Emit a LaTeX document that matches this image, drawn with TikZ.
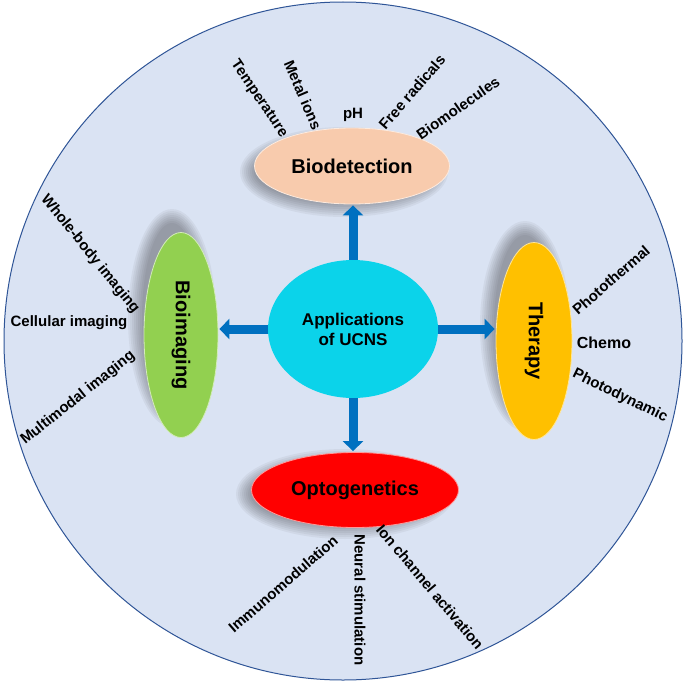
\documentclass[tikz,border=0pt]{standalone}
\usepackage{fontspec}
\setmainfont{Liberation Sans}
\usetikzlibrary{shapes.geometric,arrows.meta}
\definecolor{bgc}{HTML}{DAE3F3}
\definecolor{rim}{HTML}{2F5597}
\definecolor{cyanc}{HTML}{0BD3EA}
\definecolor{peach}{HTML}{F8CBAD}
\definecolor{leaf}{HTML}{92D050}
\definecolor{gold}{HTML}{FFC000}
\definecolor{redc}{HTML}{FF0000}
\definecolor{arr}{HTML}{0070C0}
\tikzset{
  oval/.style={ellipse, inner sep=0pt, font=\bfseries\fontsize{20}{24}\selectfont},
  sub/.style={inner sep=0pt, font=\bfseries\fontsize{15}{18}\selectfont},
  link/.style={arr, line width=9pt, -{Triangle[length=10pt,width=20pt]}, shorten >=1pt},
  shade layer/.style={fill=black!85, opacity=0.055},
}
\newcommand\mysoftshadow[4]{% center x, center y, rx, ry
  \foreach \k in {0,...,7}{
    \fill[shade layer] (#1,#2) ellipse [x radius={#3+9-2*\k}, y radius={#4+9-2*\k}];
  }}
\begin{document}
\begin{tikzpicture}[x=1pt,y=-1pt]
\useasboundingbox (0,0) rectangle (685,685);
\fill[white] (0,0) rectangle (685,685);
\filldraw[fill=bgc, draw=rim, line width=1pt] (343,341) circle[radius=339];

% soft shadows
\mysoftshadow{344}{172}{95}{36}
\mysoftshadow{172}{318}{35}{100}
\mysoftshadow{525}{326}{36}{96}
\mysoftshadow{345}{494}{100}{36}

% central and satellite ovals
\node[oval, fill=cyanc, minimum width=170pt, minimum height=138pt, align=center,
      font=\bfseries\fontsize{17}{20}\selectfont] (c) at (353,329) {Applications\\of UCNS};
\node[oval, fill=peach, draw=peach!40!white, line width=0.8pt, minimum width=195pt, minimum height=76pt] (bd) at (352,166) {Biodetection};
\node[oval, fill=leaf, draw=leaf!40!white, line width=0.8pt, minimum width=74pt, minimum height=205pt] (bi) at (181,335) {\rotatebox{-90}{Bioimaging}};
\node[oval, fill=gold, draw=gold!40!white, line width=0.8pt, minimum width=76pt, minimum height=197pt] (th) at (534,341) {\rotatebox{-90}{Therapy}};
\node[oval, fill=redc, draw=redc!40!white, line width=0.8pt, minimum width=207pt, minimum height=75pt] (og) at (355,490) {Optogenetics};

% arrows
\draw[link] (c.north) -- (c.north |- bd.south);
\draw[link] (c.west) -- (c.west -| bi.east);
\draw[link] (c.east) -- (c.east -| th.west);
\draw[link] (c.south) -- (c.south |- og.north);

% biodetection items
\node[sub, rotate=-56] (t1) at (259,99) {Temperature};
\node[sub, rotate=-67] (t2) at (303,95) {Metal ions};
\node[sub] (t3) at (353,115) {pH};
\node[sub, rotate=49] (t4) at (412,92) {Free radicals};
\node[sub, rotate=35] (t5) at (458,108) {Biomolecules};

% bioimaging items
\node[sub, rotate=-51] (i1) at (90,254) {Whole-body imaging};
\node[sub] (i2) at (69,323) {Cellular imaging};
\node[sub, rotate=38.5] (i3) at (78,398) {Multimodal imaging};

% therapy items
\node[sub, rotate=41] (p1) at (611,280) {Photothermal};
\node[sub, font=\bfseries\fontsize{16}{19}\selectfont] (p2) at (604,343) {Chemo};
\node[sub, rotate=-26] (p3) at (620,396) {Photodynamic};

% optogenetics items
\node[sub, rotate=41] (o1) at (283,584) {Immunomodulation};
\node[sub, rotate=-90] (o2) at (360,600) {Neural stimulation};
\node[sub, rotate=-50] (o3) at (430,587) {Ion channel activation};
\end{tikzpicture}
\end{document}
